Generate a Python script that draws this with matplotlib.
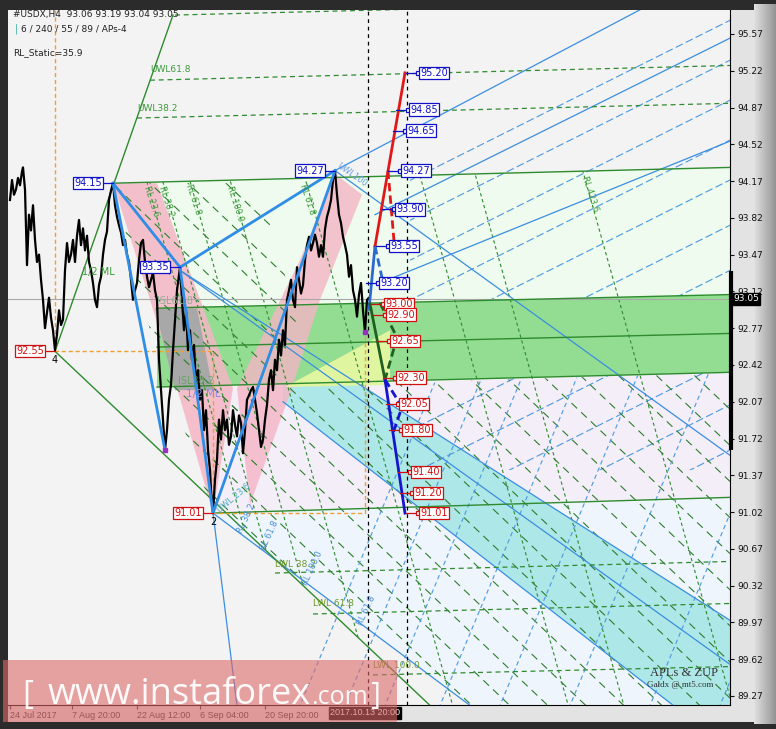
import numpy as np
import matplotlib
matplotlib.use("Agg")
import matplotlib.pyplot as plt
from matplotlib.patches import Polygon, Rectangle
from matplotlib.transforms import blended_transform_factory

plt.rcParams['font.family'] = ['DejaVu Sans']

# ---- price path (x = H4 bar position, y = price) ----
bars = [10, 12, 14, 16, 18, 20, 22, 23,
        25, 27, 29, 31, 33, 35, 37, 39, 41, 43,
        45, 47, 49, 51, 53, 55, 57, 59, 61, 63,
        65, 67, 69, 71, 73, 75, 77, 79, 81, 83,
        85, 87, 89, 91, 93, 95, 97, 99, 101, 103,
        105, 107, 109, 111, 113, 115, 117, 119, 121, 123,
        125, 127, 129, 131, 133, 135, 137, 139, 141, 143,
        145, 147, 149, 151, 153, 155, 157, 159, 161, 163,
        165, 167, 169, 171, 173, 175, 177, 179, 180,
        182, 184, 186, 188, 190, 192, 194, 196, 198, 200,
        202, 204, 206, 208, 210, 211, 213,
        215, 217, 219, 221, 223, 225, 227, 229, 231, 233,
        235, 237, 239, 241, 243, 245, 247, 249, 251, 253,
        255, 257, 259, 261, 263, 265, 267, 269, 271, 273,
        275, 277, 279, 281, 283, 285, 287, 289, 291, 293,
        295, 297, 299, 301, 303, 305, 307, 309, 311, 313,
        315, 317, 319, 321, 323, 325, 327, 329, 331, 333,
        335, 337, 339, 341, 343, 345, 347, 349, 351, 353,
        355, 357, 359, 361, 363, 365, 367, 368]
closes = [93.99, 94.18, 94.04, 94.09, 94.20, 94.13, 94.26, 94.30,
          94.09, 93.37, 93.85, 93.70, 93.94, 93.61, 93.40, 93.47, 93.23, 93.04,
          92.77, 92.92, 93.06, 92.87, 92.75, 92.56, 92.71, 92.94, 92.80, 92.85,
          93.32, 93.58, 93.40, 93.47, 93.61, 93.40, 93.65, 93.80, 93.56, 93.72,
          93.51, 93.65, 93.40, 93.32, 93.20, 93.04, 92.97, 93.18, 93.26, 93.47,
          93.61, 93.69, 93.99, 94.08, 94.15, 93.94, 93.83, 93.75, 93.68, 93.56,
          93.61, 93.47, 93.40, 93.23, 93.04, 93.13, 93.20, 93.42, 93.58, 93.61,
          93.40, 93.26, 93.16, 93.23, 93.30, 93.13, 93.04, 92.47, 92.18, 91.90,
          91.61, 91.80, 92.09, 92.23, 92.56, 92.85, 93.13, 93.28, 93.35,
          93.04, 92.75, 92.94, 92.56, 92.75, 92.47, 92.61, 92.23, 92.37, 92.09,
          92.18, 91.80, 91.99, 91.61, 91.42, 91.23, 91.01,
          91.33, 91.52, 91.90, 91.71, 91.99, 91.80, 91.90, 91.66, 91.74, 91.99,
          91.85, 91.74, 91.94, 91.87, 91.58, 91.80, 92.09, 92.13, 92.18, 92.21,
          92.09, 91.96, 91.80, 91.64, 91.71, 91.90, 92.04, 92.28, 92.37, 92.18,
          92.47, 92.37, 92.66, 92.51, 92.75, 92.61, 93.04, 93.13, 93.23, 93.04,
          92.97, 93.35, 93.23, 93.10, 93.18, 93.42, 93.56, 93.64, 93.51, 93.58,
          93.66, 93.58, 93.45, 93.56, 93.45, 93.71, 93.83, 93.90, 93.99, 94.18,
          94.27, 94.04, 93.85, 93.77, 93.64, 93.56, 93.47, 93.26, 93.37, 93.13,
          93.04, 92.88, 93.09, 93.20, 92.94, 92.73, 93.04, 93.05]

price_ticks = [95.57, 95.22, 94.87, 94.52, 94.17, 93.82, 93.47, 93.12, 92.77, 92.42,
               92.07, 91.72, 91.37, 91.02, 90.67, 90.32, 89.97, 89.62, 89.27]
date_pos = [10, 72, 137, 200, 265]
date_labels = ["24 Jul 2017", "7 Aug 20:00", "22 Aug 12:00", "6 Sep 04:00", "20 Sep 20:00"]
last_bar, last_price = 368, 93.05
future_bar = 407

# pivots (zigzag)
piv_bars = [113, 180, 335, 55, 213]
piv_prices = [94.15, 93.35, 94.27, 92.55, 91.01]
piv_up = [True, True, True, False, False]
zig_legs = [[(113, 94.15), (165, 91.61)],
            [(113, 94.15), (180, 93.35), (335, 94.27)],
            [(180, 93.35), (213, 91.01), (335, 94.27)]]

# ZUP projection levels
zup_up_prices = [95.20, 94.85, 94.65, 94.27, 93.90, 93.55, 93.20]
zup_up_bars = [418, 408, 405, 400, 394, 388, 378]
zup_dn_prices = [93.00, 92.90, 92.65, 92.30, 92.05, 91.80, 91.40, 91.20, 91.01]
zup_dn_bars = [383, 385, 389, 395, 398, 401, 410, 412, 418]

# zones
zone_light_green = [(113, 94.15), (730, 94.30), (730, 93.09), (157, 92.96), (150, 93.04)]
zone_lavender = [(213, 92.19), (730, 92.35), (730, 91.16), (213, 91.01)]
zone_light_blue = [(213, 91.01), (730, 91.16), (730, 89.18), (470, 89.18)]
zone_cyan = [(283, 92.70), (730, 89.99), (730, 88.76), (283, 92.07)]
zone_green_band = [(157, 92.96), (730, 93.09), (730, 92.35), (157, 92.21)]
zone_gray = [(155, 92.96), (197, 92.96), (213, 92.18), (175, 92.18)]
zone_pink_a = [(113, 94.15), (157, 94.15), (233, 92.20), (213, 91.01), (177, 92.20), (150, 93.04)]
zone_pink_b = [(250, 91.09), (237, 92.20), (300, 93.42), (335, 94.24), (362, 94.04), (320, 93.04), (292, 92.20)]
zone_yellow = [(285, 92.21), (390, 92.75), (390, 92.23)]

# solid lines
blue_lines = [[(335, 94.27), (730, 91.56)], [(180, 93.32), (730, 89.99)],
              [(180, 93.32), (730, 89.57)], [(283, 92.07), (730, 88.76)],
              [(213, 91.01), (470, 89.18)], [(213, 91.01), (237, 89.18)],
              [(335, 94.27), (640, 95.80)], [(375, 93.85), (730, 95.53)],
              [(380, 93.20), (730, 94.55)]]
green_lines = [[(113, 94.15), (730, 94.30)], [(213, 91.01), (730, 91.16)],
               [(157, 92.96), (730, 93.09)], [(157, 92.59), (730, 92.72)],
               [(157, 92.21), (730, 92.35)], [(55, 92.55), (173, 95.75)],
               [(55, 92.55), (430, 89.18)]]
green_dash_levels = [[(175, 95.75), (730, 95.88)], [(150, 95.13), (730, 95.27)],
                     [(137, 94.77), (730, 94.91)], [(275, 90.44), (730, 90.55)],
                     [(313, 90.05), (730, 90.15)], [(373, 89.47), (730, 89.55)]]
orange_x = [55, 55, 213, 213, 365, 365]
orange_p = [95.80, 92.55, 92.55, 91.01, 91.01, 92.73]

# dashed line families (anchor bar, anchor price)
rl_green = [(147, 94.16), (163, 94.16), (190, 94.17), (230, 94.18), (305, 94.20),
            (420, 94.22), (475, 94.24), (583, 94.26)]
up_blue = [(730, p) for p in [95.70, 95.32, 94.94, 94.56, 94.18, 93.75, 93.32,
                              92.90, 92.47, 92.04, 91.61]]
steep_blue = [(x, 89.18) for x in [300, 345, 385, 440, 500, 570, 650, 720]]

# ---- figure ----
W, H = 776, 729
fig = plt.figure(figsize=(W / 100, H / 100), dpi=100, facecolor='#2b2b2b')


def fx(px):
    return px / W


def fy(py):
    return 1 - py / H


fig.patches.append(Rectangle((fx(8), fy(722)), 760 / W, 712 / H, transform=fig.transFigure,
                             fc='#e3e3e3', ec='none', zorder=-5))
gax = fig.add_axes([fx(754), fy(724), 22 / W, 720 / H])
gax.imshow(np.linspace(0.88, 0.58, 40)[None, :], cmap='gray', vmin=0, vmax=1, aspect='auto')
gax.axis('off')
gax.set_zorder(-1)

ax = fig.add_axes([fx(8), fy(705), 722 / W, 695 / H])
ax.set_facecolor('#f3f3f3')
ax.set_xlim(8, 730)
ax.set_ylim(89.184, 95.798)
for s in ['left', 'top']:
    ax.spines[s].set_visible(False)
for s in ['right', 'bottom']:
    ax.spines[s].set_linewidth(0.8)

ax.yaxis.tick_right()
ax.set_yticks(price_ticks)
ax.set_yticklabels([f"{p:.2f}" for p in price_ticks])
ax.tick_params(axis='y', length=3, width=0.8, labelsize=6.5, pad=2, colors='#111111')
ax.set_xticks(date_pos)
ax.set_xticklabels(date_labels, ha='left', family='Liberation Sans')
ax.tick_params(axis='x', length=3, width=0.8, labelsize=6.5, pad=1.5, colors='#333333')


def fill(poly, color, z, alpha=1.0):
    ax.add_patch(Polygon(poly, closed=True, fc=color, ec='none', alpha=alpha, zorder=z))


fill(zone_light_green, '#eefbee', 1)
fill(zone_lavender, '#f3eef8', 1)
fill(zone_light_blue, '#eef5fc', 1)
fill(zone_cyan, '#ade7e7', 1.2)
fill(zone_green_band, '#92dd92', 2)
fill(zone_pink_a, '#f5b5c5', 2.2, 0.85)
fill(zone_pink_b, '#f5b5c5', 2.2, 0.8)
fill(zone_gray, '#a8a8a8', 2.4)
fill(zone_yellow, '#e0f5a0', 2.4)


def family(anchors, slope, poly, z, **kw):
    clip = Polygon(poly, closed=True, transform=ax.transData, fc='none', ec='none')
    xs = np.array([0.0, 740.0])
    for x0, p0 in anchors:
        ln, = ax.plot(xs, p0 + slope * (xs - x0), zorder=z, **kw)
        ln.set_clip_path(clip)


hatch = [(x, 94.15) for x in range(-420, 730, 38)]
hatch_kw = dict(color='#2e7d2e', lw=0.8, ls=(0, (7, 5)))
family(hatch, -0.00904, [(113, 94.15), (260, 94.15), (300, 92.75), (213, 91.01), (150, 92.75)], 2.6, **hatch_kw)
family(hatch, -0.00904, [(213, 92.19), (730, 92.35), (730, 89.18), (470, 89.18), (213, 91.01)], 2.6, **hatch_kw)
family(rl_green, -0.034, [(113, 94.15), (730, 94.30), (730, 89.18), (430, 89.18), (55, 92.55)], 2.6,
       color='#2e8b2e', lw=0.8, ls=(0, (3, 2.5)))
family(up_blue, 0.00476, [(410, 95.80), (730, 95.80), (730, 91.42), (410, 91.42)], 1.8,
       color='#4a98e0', lw=0.8, ls=(0, (7, 3)))
family(steep_blue, 0.0228, [(240, 89.18), (730, 89.18), (730, 92.35), (280, 92.20)], 2.6,
       color='#4a98e0', lw=0.8, ls=(0, (4, 3)))

for a, b in blue_lines:
    ax.plot([a[0], b[0]], [a[1], b[1]], color='#3b8ee0', lw=0.9, zorder=3)
for a, b in green_lines:
    ax.plot([a[0], b[0]], [a[1], b[1]], color='#2e8b2e', lw=1.0, zorder=3)
for a, b in green_dash_levels:
    ax.plot([a[0], b[0]], [a[1], b[1]], color='#2e8b2e', lw=0.9, ls=(0, (4, 3)), zorder=3)
ax.plot(orange_x, orange_p, color='#f0a030', lw=1.0, ls=(0, (3, 2)), zorder=3)
ax.axhline(last_price, color='#a8a8a8', lw=0.8, zorder=2.7)
for xb in [last_bar, future_bar]:
    ax.axvline(xb, color='black', lw=0.9, ls=(0, (3, 3)), zorder=5)

# price
ax.plot(bars, closes, color='black', lw=1.6, zorder=4)

# zigzag
for leg in zig_legs:
    ax.plot([p[0] for p in leg], [p[1] for p in leg], color='#2f8de6', lw=2.0, zorder=4.5)
ax.plot([165, 365], [91.61, 92.73], ls='none', marker='s', ms=2.5, color='#9b30c0', zorder=5)

# ZUP projection
ax.plot([369, 375], [92.95, 93.55], color='#2a6ad0', lw=2, zorder=6)
ax.plot([375, 405], [93.55, 95.20], color='#e01818', lw=2, zorder=6)
ax.plot([388, 394], [94.27, 93.60], color='#e01818', lw=2, ls=(0, (3, 1.5)), zorder=6)
ax.plot([375, 382], [93.55, 93.25], color='#2a6ad0', lw=2, ls=(0, (3, 1.5)), zorder=6)
ax.plot([370, 385], [93.00, 92.28], color='#1f5f1f', lw=2, zorder=6)
ax.plot([380, 397, 385], [93.01, 92.68, 92.28], color='#1f5f1f', lw=2, ls=(0, (3, 1.5)), zorder=6)
ax.plot([385, 405], [92.28, 91.01], color='#1515d0', lw=2, zorder=6)
ax.plot([385, 402, 393], [92.28, 92.02, 91.77], color='#1515d0', lw=2, ls=(0, (3, 1.5)), zorder=6)


def level_label(xb, p, c):
    ax.plot([xb - 12, xb], [p, p], color=c, lw=0.9, zorder=7)
    ax.plot([xb], [p], ls='none', marker='s', ms=3, mfc='white', mec=c, mew=0.9, zorder=7.5)
    ax.text(xb + 2, p, f"{p:.2f}", ha='left', va='center', fontsize=7, color=c, zorder=8,
            bbox=dict(boxstyle='square,pad=0.12', fc='white', ec=c, lw=0.9))


for xb, p in zip(zup_up_bars, zup_up_prices):
    level_label(xb, p, '#1010c8')
for xb, p in zip(zup_dn_bars, zup_dn_prices):
    level_label(xb, p, '#d01010')

for xb, p, up in zip(piv_bars, piv_prices, piv_up):
    c = '#1010c8' if up else '#d01010'
    ax.plot([xb - 10, xb], [p, p], color=c, lw=0.9, zorder=7)
    ax.text(xb - 11, p, f"{p:.2f}", ha='right', va='center', fontsize=7, color=c, zorder=8,
            bbox=dict(boxstyle='square,pad=0.12', fc='white', ec=c, lw=0.9))
ax.text(55, 92.47, "4", ha='center', va='center', fontsize=7, zorder=8)
ax.text(213, 90.93, "2", ha='center', va='center', fontsize=7, zorder=8)

# text labels on the chart
g = '#3d9a3d'
ax.text(150, 95.23, "UWL61.8", fontsize=6.5, color=g, va='center', zorder=8)
ax.text(137, 94.86, "UWL38.2", fontsize=6.5, color=g, va='center', zorder=8)
ax.text(82, 93.30, "1/2 ML", fontsize=7, color=g, va='center', zorder=8)
ax.text(186, 92.14, "1/2 ML", fontsize=7.5, color='#8a8ae6', va='center', zorder=8)
ax.text(157, 93.03, "ISL61.8", fontsize=7, color='#8fb08f', va='center', zorder=8)
ax.text(178, 92.27, "ISL38.2", fontsize=7, color='#5aa05a', va='center', zorder=8, alpha=0.8)
ax.text(275, 90.52, "LWL 38.2", fontsize=6.5, color='#6f9a2a', va='center', zorder=8)
ax.text(313, 90.15, "LWL 61.8", fontsize=6.5, color='#6f9a2a', va='center', zorder=8)
ax.text(373, 89.56, "LWL 100.0", fontsize=6.5, color='#6f9a2a', va='center', zorder=8)
for xb, p, s in [(146, 94.12, "RL 23.6"), (161, 94.12, "RL 38.2"), (188, 94.14, "RL 61.8"),
                 (229, 94.12, "RL 100.0"), (302, 94.14, "RL 61.8"), (584, 94.22, "RL 423.6")]:
    ax.text(xb, p, s, fontsize=6, color=g, rotation=-72, rotation_mode='anchor',
            ha='left', va='center', zorder=8)
for xb, p, s in [(240, 90.82, "RL 38.2"), (263, 90.66, "RL 61.8"), (305, 90.33, "RL 100.0"),
                 (360, 89.95, "RL 61.8")]:
    ax.text(xb, p, s, fontsize=6, color='#4a90d9', rotation=65, rotation_mode='anchor',
            ha='left', va='center', zorder=8)
ax.text(218, 91.03, "UWL 23.6", fontsize=6, color='#4ab0c0', rotation=40,
        rotation_mode='anchor', ha='left', va='center', zorder=8)
ax.text(338, 94.32, "UWL100", fontsize=6, color='#6aa0e0', rotation=-35,
        rotation_mode='anchor', ha='left', va='center', zorder=8)
ax.text(650, 89.49, "APLs & ZUP", fontsize=9, color='#333333', family='Liberation Serif',
        va='center', zorder=8)
ax.text(647, 89.37, "Galdx @ mt5.com", fontsize=6.5, color='#333333', family='Liberation Serif',
        va='center', zorder=8)

# current price box, range bar and time box
tr_y = blended_transform_factory(ax.transAxes, ax.transData)
ax.text(1.004, last_price, f"{last_price:.2f}", transform=tr_y, ha='left', va='center',
        fontsize=6.5, color='white', zorder=9, clip_on=False,
        bbox=dict(boxstyle='square,pad=0.15', fc='black', ec='black'))
ax.plot([731, 731], [93.31, 91.61], color='black', lw=3, solid_capstyle='butt',
        clip_on=False, zorder=9)
tr_x = blended_transform_factory(ax.transData, ax.transAxes)
ax.text(365, -0.005, "2017.10.13 20:00", transform=tr_x, ha='center', va='top', fontsize=6.5,
        family='Liberation Sans', color='white', zorder=9, clip_on=False,
        bbox=dict(boxstyle='square,pad=0.15', fc='black', ec='black'))

# header texts
fig.text(fx(13), fy(15), "#USDX,H4  93.06 93.19 93.04 93.05", fontsize=6.5, va='center', color='#222222')
fig.text(fx(15), fy(29), "|", fontsize=7, va='center', color='#30b0a0')
fig.text(fx(21), fy(29), "6 / 240 / 55 / 89 / APs-4", fontsize=6.5, va='center', color='#222222')
fig.text(fx(13), fy(53), "RL_Static=35.9", fontsize=6.5, va='center', color='#222222')

# watermark
fig.patches.append(Rectangle((fx(3), fy(722)), 394 / W, 62 / H, transform=fig.transFigure,
                             fc='#dd6969', ec='none', alpha=0.6, zorder=10))
wm = dict(color='white', family='Open Sans', va='baseline', zorder=11, alpha=0.95)
fig.text(fx(22), fy(704), "[", fontsize=24, **wm)
fig.text(fx(48), fy(704), "www.instaforex", fontsize=26, **wm)
fig.text(fx(311), fy(704), ".com", fontsize=18, **wm)
fig.text(fx(370), fy(704), "]", fontsize=22, **wm)

fig.savefig("out.png", dpi=100, facecolor=fig.get_facecolor())
